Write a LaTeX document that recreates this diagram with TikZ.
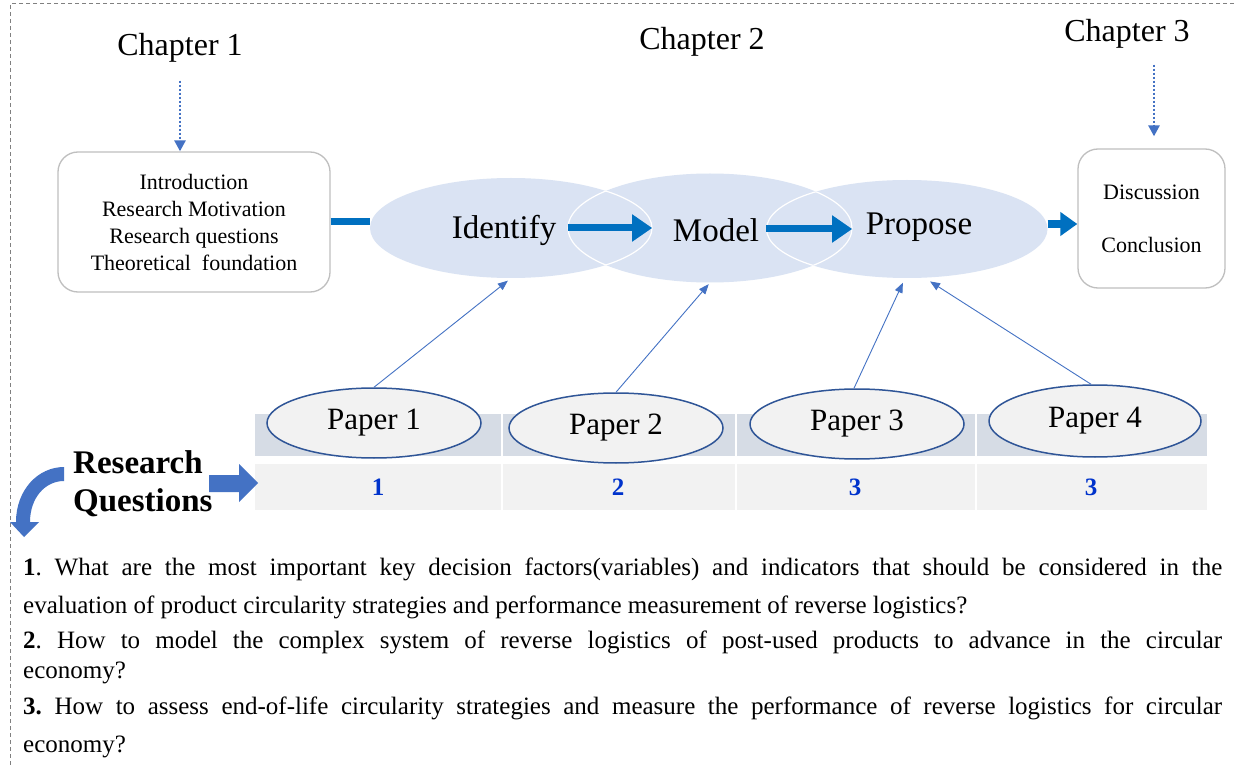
\documentclass[tikz,border=0pt]{standalone}
\usepackage{fontspec}
\setmainfont{Liberation Serif}
\usetikzlibrary{arrows.meta,shapes.geometric}
\definecolor{flowblue}{HTML}{0070C0}
\definecolor{accblue}{HTML}{4472C4}
\definecolor{blobfill}{HTML}{DAE3F3}
\definecolor{paperblue}{HTML}{2F5597}
\definecolor{celltop}{HTML}{D6DCE5}
\definecolor{cellbot}{HTML}{F2F2F2}
\definecolor{boxgray}{HTML}{BFBFBF}
\definecolor{bordergray}{HTML}{808080}
\definecolor{numblue}{HTML}{0033CC}
\frenchspacing
\begin{document}
\begin{tikzpicture}[x=1pt,y=-1pt,
  blob/.style={ellipse, fill=blobfill, draw=none, inner sep=0pt},
  bigword/.style={inner sep=0pt, font=\fontsize{33}{40}\selectfont},
  chap/.style={inner sep=2pt, font=\fontsize{32}{38}\selectfont},
  roundbox/.style={draw=boxgray, line width=1.3pt, rounded corners=20pt, fill=white, align=center, inner sep=0pt},
  paperell/.style={ellipse, draw=paperblue, line width=1.5pt, fill=cellbot, inner sep=0pt,
    minimum width=214pt, minimum height=70pt, font=\fontsize{31}{36}\selectfont},
  numtxt/.style={inner sep=0pt, text=numblue, font=\fontsize{25}{30}\selectfont\bfseries},
  flowarrow/.style={draw=flowblue, line width=7pt, -{Triangle[length=20pt,width=26pt]}},
  feed/.style={draw=accblue, line width=0.9pt, -{Triangle[length=10pt,width=8pt]}},
  dotarrow/.style={draw=accblue, line width=2.6pt, dash pattern=on 2.4pt off 1.6pt, -{Triangle[length=11pt,width=11pt]}},
  topcell/.style={fill=celltop, draw=white, line width=2pt},
  botcell/.style={fill=cellbot, draw=white, line width=2pt},
  qpara/.style={anchor=base west, inner sep=0pt}
]
\useasboundingbox (0,0) rectangle (1234,767);
\fill[white] (0,0) rectangle (1234,767);
% dashed frame
\draw[bordergray, line width=1pt, dash pattern=on 4pt off 3pt] (1234,4) -- (10,4) -- (10,767);

% chapter titles
\node[chap] (chap1) at (180,48) {Chapter 1};
\node[chap] (chap2) at (702,42) {Chapter 2};
\node[chap] (chap3) at (1127,34) {Chapter 3};

% side boxes
\node[roundbox, minimum width=272pt, minimum height=140pt, font=\fontsize{22}{27}\selectfont] (intro) at (194,222)
  {Introduction\\Research Motivation\\Research questions\\Theoretical\ \ foundation};
\node[roundbox, minimum width=147pt, minimum height=139pt, font=\fontsize{22}{53}\selectfont] (disc) at (1151.5,218.5)
  {Discussion\\Conclusion};

% chapter 2 blobs
\node[blob, minimum width=282pt, minimum height=100pt] (identify) at (511,228) {};
\node[blob, minimum width=284pt, minimum height=109pt] (model) at (710,228) {};
\node[blob, minimum width=281pt, minimum height=98pt] (propose) at (907,229) {};
\begin{scope}
  \clip (511,228) ellipse [x radius=141pt, y radius=50pt];
  \draw[white, line width=1.2pt] (710,228) ellipse [x radius=142pt, y radius=54.5pt];
\end{scope}
\begin{scope}
  \clip (710,228) ellipse [x radius=142pt, y radius=54.5pt];
  \draw[white, line width=1.2pt] (511,228) ellipse [x radius=141pt, y radius=50pt];
\end{scope}
\begin{scope}
  \clip (710,228) ellipse [x radius=142pt, y radius=54.5pt];
  \draw[white, line width=1.2pt] (907,229) ellipse [x radius=140.5pt, y radius=49pt];
\end{scope}
\begin{scope}
  \clip (907,229) ellipse [x radius=140.5pt, y radius=49pt];
  \draw[white, line width=1.2pt] (710,228) ellipse [x radius=142pt, y radius=54.5pt];
\end{scope}
\node[bigword] (identifyt) at (504,230) {Identify};
\node[bigword] (modelt) at (716,230) {Model};
\node[bigword] (proposet) at (919,227) {Propose};

% connectors top
\draw[dotarrow, shorten <=16pt] (chap1.south) -- (chap1.south |- intro.north);
\draw[dotarrow, shorten <=14pt, shorten >=12pt] ([xshift=2.5pt]disc.north |- chap3.south) -- ([xshift=2.5pt]disc.north);
\draw[flowblue, line width=7pt] (intro.east) -- (intro.east -| identify.west);
\draw[flowarrow] (model.west) -- (identify.east);
\draw[flowarrow] (propose.west) -- (propose.west -| model.east);
\draw[draw=flowblue, line width=8pt, -{Triangle[length=17pt,width=23pt]}] ([yshift=5pt]propose.east) -- ([yshift=5pt]propose.east -| disc.west);

% table
\fill[topcell] (254,413) rectangle (502,457);
\fill[topcell] (502,413) rectangle (736,457);
\fill[topcell] (736,413) rectangle (976,457);
\fill[topcell] (976,413) rectangle (1208,457);
\filldraw[botcell] (254,463) rectangle (502,511);
\filldraw[botcell] (502,463) rectangle (736,511);
\filldraw[botcell] (736,463) rectangle (976,511);
\filldraw[botcell] (976,463) rectangle (1208,511);
\draw[white, line width=2pt] (502,413) -- (502,457) (736,413) -- (736,457) (976,413) -- (976,457);

\node[numtxt] (n1) at (378,487) {1};
\node[numtxt] (n2) at (618,487) {2};
\node[numtxt] (n3) at (855,487) {3};
\node[numtxt] (n4) at (1091,487) {3};

% papers
\node[paperell] (paper1) at (374,423) {Paper 1};
\node[paperell] (paper2) at (616,428) {Paper 2};
\node[paperell] (paper3) at (857,424) {Paper 3};
\node[paperell, minimum width=212pt, minimum height=72pt] (paper4) at (1095,421) {Paper 4};

\draw[feed, shorten >=4pt] (paper1.north) -- (identify.south);
\draw[feed, shorten >=2pt] (paper2.north) -- (model.south);
\draw[feed, shorten >=5pt] ([xshift=-3pt]paper3.north) -- ([xshift=-2pt]propose.south);
\draw[feed, shorten >=6pt] ([xshift=-4pt]paper4.north) -- ([xshift=18pt]propose.south);

% research questions label and arrows
\node[anchor=base west, inner sep=0pt] (rq) at (73,473)
  {\parbox[t]{200pt}{\fontsize{33}{38}\selectfont\bfseries\raggedright Research\\Questions}};
\fill[accblue] (209,475) -- (239,475) -- (239,464) -- (258,483) -- (239,502) -- (239,492) -- (209,492) -- cycle;
\fill[accblue] (64,467) .. controls (38,467) and (16,490) .. (16,522) -- (10,522) -- (24,537) -- (39,522) -- (30,522)
  .. controls (30,498) and (45,481) .. (64,481) -- cycle;

% questions text
\node[qpara] (q1) at (23,575) {\parbox[t]{1199pt}{\fontsize{25}{38}\selectfont\tolerance=10000
  \textbf{1}. What are the most important key decision factors(variables) and indicators that should be considered in the\linebreak
  evaluation of product circularity strategies and performance measurement of reverse logistics?}};
\node[qpara] (q2) at (23,648) {\parbox[t]{1199pt}{\fontsize{25}{30}\selectfont\tolerance=10000
  \textbf{2}. How to model the complex system of reverse logistics of post-used products to advance in the circular\linebreak
  economy?}};
\node[qpara] (q3) at (23,714) {\parbox[t]{1199pt}{\fontsize{25}{38}\selectfont\tolerance=10000
  \textbf{3.} How to assess end-of-life circularity strategies and measure the performance of reverse logistics for circular\linebreak
  economy?}};
\end{tikzpicture}
\end{document}
